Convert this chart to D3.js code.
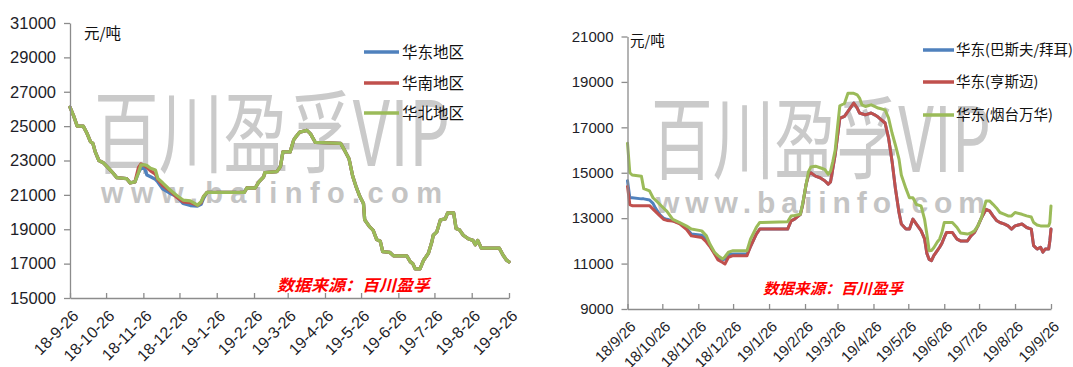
<!DOCTYPE html>
<html>
<head>
<meta charset="utf-8">
<script src="https://cdn.jsdelivr.net/npm/d3@7"></script>
<style>
  body { margin: 0; background: #fff; }
  svg { display: block; }
</style>
</head>
<body>
<svg id="chart" width="1073" height="367"></svg>
<script>
// ---------- Left panel: regional prices (元/吨) ----------
const leftDates = [
  "2018-09-26","2018-09-29","2018-10-02","2018-10-07","2018-10-10","2018-10-13","2018-10-15","2018-10-17","2018-10-20","2018-10-24",
  "2018-10-28","2018-11-01","2018-11-04","2018-11-12","2018-11-15","2018-11-19",
  "2018-11-22","2018-11-24","2018-11-27","2018-11-29","2018-12-02","2018-12-06","2018-12-08","2018-12-12","2018-12-18","2018-12-24",
  "2018-12-29","2019-01-04","2019-01-10","2019-01-13","2019-01-15",
  "2019-01-18","2019-02-18","2019-02-20","2019-02-27","2019-03-02","2019-03-06","2019-03-07","2019-03-17","2019-03-20","2019-03-22",
  "2019-03-28","2019-03-31","2019-04-02","2019-04-05","2019-04-11","2019-04-14","2019-04-18","2019-05-09","2019-05-13","2019-05-16",
  "2019-05-19","2019-05-22","2019-05-25","2019-05-28","2019-05-29","2019-06-02","2019-06-05","2019-06-08","2019-06-11","2019-06-13",
  "2019-06-19","2019-06-22","2019-07-03","2019-07-06","2019-07-08","2019-07-10","2019-07-14","2019-07-17","2019-07-21","2019-07-24",
  "2019-07-25","2019-07-28","2019-07-31","2019-08-04","2019-08-06","2019-08-11","2019-08-13","2019-08-16","2019-08-19","2019-08-23",
  "2019-08-27","2019-08-29","2019-08-31","2019-09-03","2019-09-18","2019-09-21","2019-09-24","2019-09-26"
];
// 华东地区
const leftEast = [
  26100,25600,25000,25000,24600,24100,24000,23500,23000,22850,22550,22250,22000,21950,21700,21750,
  22300,22550,22550,22150,22050,21900,21750,21350,21100,20900,20500,20380,20350,20450,20800,
  21150,21150,21400,21400,21750,22050,22300,22350,22650,23500,23500,24200,24400,24650,24750,24550,24050,24000,23500,23100,
  22100,21450,20900,20500,19550,19150,18950,18400,18300,17700,17650,17450,17450,17100,17000,16700,16700,17200,17600,18300,
  18650,18850,19550,19600,19950,19950,19050,18950,18650,18450,18350,18100,18350,17900,17900,17500,17200,17100
];
// 华南地区
const leftSouth = [
  26100,25600,25000,25000,24600,24100,24000,23500,23000,22850,22550,22250,22000,21950,21700,21750,
  22600,22800,22700,22600,22400,22200,21900,21550,21250,20850,20600,20550,20400,20550,20900,
  21150,21150,21400,21400,21750,22050,22300,22350,22650,23500,23500,24200,24400,24650,24750,24550,24050,24000,23500,23100,
  22100,21450,20900,20500,19550,19150,18950,18400,18300,17700,17650,17450,17450,17100,17000,16700,16700,17200,17600,18300,
  18650,18850,19550,19600,19950,19950,19050,18950,18650,18450,18350,18100,18350,17900,17900,17500,17200,17100
];
// 华北地区
const leftNorth = [
  26100,25600,25000,25000,24600,24100,24000,23500,23000,22850,22550,22250,22000,21950,21700,21750,
  22300,22750,22750,22700,22550,22450,21950,21700,21300,20950,20700,20650,20400,20600,20900,
  21150,21150,21400,21400,21750,22050,22300,22350,22650,23500,23500,24200,24400,24650,24750,24550,24050,24000,23500,23100,
  22100,21450,20900,20500,19550,19150,18950,18400,18300,17700,17650,17450,17450,17100,17000,16700,16700,17200,17600,18300,
  18650,18850,19550,19600,19950,19950,19050,18950,18650,18450,18350,18100,18350,17900,17900,17500,17200,17100
];
const leftNames = ["华东地区", "华南地区", "华北地区"];
const leftYTicks = [15000, 17000, 19000, 21000, 23000, 25000, 27000, 29000, 31000];
const leftXTickDates = ["2018-09-26","2018-10-26","2018-11-26","2018-12-26","2019-01-26","2019-02-26","2019-03-26",
  "2019-04-26","2019-05-26","2019-06-26","2019-07-26","2019-08-26","2019-09-26"];
const leftXTickLabels = ["18-9-26","18-10-26","18-11-26","18-12-26","19-1-26","19-2-26","19-3-26",
  "19-4-26","19-5-26","19-6-26","19-7-26","19-8-26","19-9-26"];

// ---------- Right panel: East China by producer (元/吨) ----------
const rightDates = [
  "2018-09-26","2018-09-28","2018-09-30","2018-10-08","2018-10-10","2018-10-15","2018-10-18","2018-10-20","2018-10-24","2018-10-27",
  "2018-10-30","2018-11-04","2018-11-10","2018-11-16","2018-11-20","2018-11-29","2018-12-03","2018-12-06","2018-12-10","2018-12-13",
  "2018-12-17","2018-12-19","2018-12-22","2018-12-26","2019-01-07","2019-01-10","2019-01-15","2019-01-18","2019-02-11","2019-02-14",
  "2019-02-17","2019-02-22","2019-02-24","2019-02-27","2019-03-01","2019-03-03","2019-03-07","2019-03-11","2019-03-15","2019-03-18",
  "2019-03-20","2019-03-22","2019-03-24","2019-03-26","2019-03-28","2019-04-01","2019-04-04","2019-04-09","2019-04-12","2019-04-14",
  "2019-04-16","2019-04-19","2019-04-24","2019-04-27","2019-04-30","2019-05-06","2019-05-09","2019-05-12","2019-05-15","2019-05-18",
  "2019-05-20","2019-05-24","2019-05-27","2019-05-30","2019-06-02","2019-06-06","2019-06-09","2019-06-11","2019-06-13","2019-06-15",
  "2019-06-17","2019-06-20","2019-06-22","2019-06-24","2019-06-26","2019-06-28","2019-07-03","2019-07-05","2019-07-07","2019-07-10",
  "2019-07-16","2019-07-19","2019-07-22","2019-07-25","2019-07-28","2019-08-01","2019-08-04","2019-08-07","2019-08-10","2019-08-13",
  "2019-08-17","2019-08-20","2019-08-23","2019-08-26","2019-09-01","2019-09-05","2019-09-09","2019-09-11","2019-09-14","2019-09-17",
  "2019-09-19","2019-09-21","2019-09-24","2019-09-25","2019-09-26"
];
// 华东(巴斯夫/拜耳)
const rightBasf = [
  14650,13900,13900,13850,13850,13800,13650,13450,13150,13000,
  12950,12880,12780,12550,12300,12250,12050,11800,11450,11250,
  11170,11200,11400,11420,11420,11750,12300,12520,12520,12880,
  12960,13170,13600,14500,14900,15000,14850,14780,14650,14500,
  14600,15200,15800,16600,17400,17480,17700,18070,17850,17630,
  17600,17550,17630,17550,17450,17190,16530,15510,14270,13250,
  12740,12520,12520,12960,12740,12450,12100,11450,11180,11130,
  11350,11570,11720,11900,12150,12370,12370,12220,12080,12000,
  12000,12220,12370,12660,13000,13390,13320,13100,12900,12810,
  12740,12660,12520,12660,12740,12590,12520,11790,11640,11720,
  11500,11640,11640,12000,12520
];
// 华东(亨斯迈)
const rightHuntsman = [
  14400,13600,13550,13550,13550,13550,13400,13300,13100,12950,
  12900,12880,12750,12500,12220,12150,11950,11750,11420,11160,
  11050,10980,11280,11350,11350,11750,12300,12520,12520,12880,
  12960,13170,13600,14500,14900,15000,14850,14780,14650,14500,
  14600,15200,15800,16600,17400,17480,17700,18070,17850,17630,
  17600,17550,17630,17550,17450,17190,16530,15510,14270,13250,
  12740,12520,12520,12960,12740,12450,12100,11450,11180,11130,
  11350,11570,11720,11900,12150,12370,12370,12220,12080,12000,
  12000,12220,12370,12660,13000,13390,13320,13100,12900,12810,
  12740,12660,12520,12660,12740,12590,12520,11790,11640,11720,
  11500,11640,11640,12000,12520
];
// 华东(烟台万华)
const rightWanhua = [
  16300,15000,14900,14850,14300,14200,13900,13800,13600,13450,
  13300,12950,12800,12650,12520,12440,12220,11860,11500,11350,
  11200,11300,11500,11570,11570,12080,12590,12810,12840,13100,
  13120,13170,13650,14500,15050,15250,15290,15220,15150,14930,
  15070,15500,16000,17000,17950,18050,18500,18500,18430,18290,
  17990,17920,17990,17920,17850,17770,17410,16750,16200,15600,
  14900,14300,13900,13900,13600,13540,12960,12300,11570,11580,
  11700,11950,12080,12370,12810,12810,12810,12700,12590,12350,
  12300,12350,12440,12660,13030,13760,13760,13610,13450,13250,
  13170,13100,13100,13250,13170,13100,13050,12810,12700,12660,
  12660,12660,12660,12810,13540
];
const rightNames = ["华东(巴斯夫/拜耳)", "华东(亨斯迈)", "华东(烟台万华)"];
const rightYTicks = [9000, 11000, 13000, 15000, 17000, 19000, 21000];
const rightXTickDates = leftXTickDates;
const rightXTickLabels = ["18/9/26","18/10/26","18/11/26","18/12/26","19/1/26","19/2/26","19/3/26",
  "19/4/26","19/5/26","19/6/26","19/7/26","19/8/26","19/9/26"];

// ---------- shared styling ----------
const seriesColors = ["#4F81BD", "#C0504D", "#9BBB59"];
const LATIN = "'Liberation Sans', Arial, 'Noto Sans CJK SC', sans-serif";
const CJK = "'Noto Sans CJK SC', 'Liberation Sans', sans-serif";
const parseDate = d3.timeParse("%Y-%m-%d");
const svg = d3.select("#chart");

function drawPanel(p) {
  const g = svg.append("g");
  const x = d3.scaleTime()
    .domain([parseDate(p.xTickDates[0]), parseDate(p.xTickDates[p.xTickDates.length - 1])])
    .range([p.left, p.right]);
  const y = d3.scaleLinear()
    .domain([p.yTicks[0], p.yTicks[p.yTicks.length - 1]])
    .range([p.bottom, p.top]);

  // watermark
  const wm = g.append("g").attr("pointer-events", "none");
  wm.append("text")
    .attr("x", p.wm.x).attr("y", p.wm.y)
    .attr("textLength", p.wm.w).attr("lengthAdjust", "spacingAndGlyphs")
    .style("font-family", CJK).style("font-size", p.wm.size + "px").style("font-weight", 400)
    .attr("fill", "#cacaca")
    .text("百川盈孚VIP");
  wm.append("text")
    .attr("x", p.www.x).attr("y", p.www.y)
    .attr("textLength", p.www.w).attr("lengthAdjust", "spacing")
    .style("font-family", LATIN).style("font-size", p.www.size + "px").style("font-weight", "bold")
    .attr("fill", "#c4c4c4")
    .text("www.baiinfo.com");

  // price lines
  const line = d3.line().x(d => x(d[0])).y(d => y(d[1]));
  p.series.forEach((values, i) => {
    const pts = p.dates.map((d, j) => [parseDate(d), values[j]]);
    g.append("path")
      .datum(pts)
      .attr("d", line)
      .attr("fill", "none")
      .attr("stroke", seriesColors[i])
      .attr("stroke-width", p.lineWidth)
      .attr("stroke-linejoin", "round")
      .attr("stroke-linecap", "round");
  });

  // y axis
  const yAxis = d3.axisLeft(y)
    .tickValues(p.yTicks)
    .tickFormat(d3.format("d"))
    .tickSizeInner(6).tickSizeOuter(0).tickPadding(p.yPad);
  const ya = g.append("g").attr("transform", `translate(${p.left},0)`).call(yAxis);
  ya.select(".domain").attr("stroke", "#8c8c8c").attr("stroke-width", 1.3);
  ya.selectAll(".tick line").attr("stroke", "#8c8c8c").attr("stroke-width", 1.3);
  ya.selectAll(".tick text")
    .attr("fill", "#1e1e28")
    .style("font-family", LATIN).style("font-size", p.yFont + "px");

  // x axis: inward ticks, rotated labels
  const tickDates = p.xTickDates.map(parseDate);
  const xAxis = d3.axisBottom(x)
    .tickValues(tickDates)
    .tickFormat((d, i) => p.xTickLabels[i])
    .tickSizeInner(-5).tickSizeOuter(0);
  const xa = g.append("g").attr("transform", `translate(0,${p.bottom})`).call(xAxis);
  xa.select(".domain").attr("stroke", "#8c8c8c").attr("stroke-width", 1.3);
  xa.selectAll(".tick line").attr("stroke", "#8c8c8c").attr("stroke-width", 1.3);
  xa.selectAll(".tick text")
    .attr("x", 0).attr("y", 0).attr("dy", "0.35em")
    .attr("text-anchor", "end")
    .attr("transform", `translate(${p.xLab.dx},${p.xLab.dy}) rotate(-45)`)
    .attr("fill", "#1e1e28")
    .style("font-family", LATIN).style("font-size", p.xFont + "px");

  // unit label
  g.append("text")
    .attr("x", p.unit.x).attr("y", p.unit.y)
    .style("font-family", CJK).style("font-size", p.unit.size + "px")
    .attr("fill", "#111")
    .text("元/吨");

  // legend
  const lg = g.append("g");
  p.names.forEach((name, i) => {
    const ry = p.legend.rows[i];
    lg.append("line")
      .attr("x1", p.legend.x1).attr("x2", p.legend.x2)
      .attr("y1", ry).attr("y2", ry)
      .attr("stroke", seriesColors[i]).attr("stroke-width", 3.5);
    lg.append("text")
      .attr("x", p.legend.tx).attr("y", ry).attr("dy", "0.36em")
      .style("font-family", CJK).style("font-size", p.legend.size + "px")
      .attr("fill", "#111")
      .text(name);
  });

  // source note
  g.append("text")
    .attr("x", p.src.x).attr("y", p.src.y)
    .attr("textLength", p.src.w).attr("lengthAdjust", "spacingAndGlyphs")
    .style("font-family", CJK).style("font-size", p.src.size + "px")
    .style("font-weight", "bold").style("font-style", "italic")
    .attr("fill", "#ff0000")
    .text("数据来源：百川盈孚");
}

drawPanel({
  dates: leftDates,
  series: [leftEast, leftSouth, leftNorth],
  names: leftNames,
  yTicks: leftYTicks,
  xTickDates: leftXTickDates,
  xTickLabels: leftXTickLabels,
  left: 70, right: 509, top: 23, bottom: 298,
  lineWidth: 3.3,
  yPad: 8, yFont: 16.5, xFont: 16,
  xLab: { dx: 5, dy: 15 },
  wm: { x: 94, y: 166, w: 356, size: 90 },
  www: { x: 101, y: 203, w: 341, size: 29 },
  unit: { x: 84, y: 39, size: 15.5 },
  legend: { x1: 364, x2: 399, tx: 402, rows: [52, 83, 113], size: 15.5 },
  src: { x: 277, y: 291, w: 153, size: 16 }
});

drawPanel({
  dates: rightDates,
  series: [rightBasf, rightHuntsman, rightWanhua],
  names: rightNames,
  yTicks: rightYTicks,
  xTickDates: rightXTickDates,
  xTickLabels: rightXTickLabels,
  left: 627.5, right: 1051, top: 36.5, bottom: 309,
  lineWidth: 3,
  yPad: 8, yFont: 15, xFont: 15,
  xLab: { dx: 5, dy: 15 },
  wm: { x: 651, y: 172, w: 340, size: 90 },
  www: { x: 656, y: 213, w: 329, size: 30 },
  unit: { x: 630, y: 46, size: 14.5 },
  legend: { x1: 923, x2: 954, tx: 956, rows: [50, 82, 115], size: 14.5 },
  src: { x: 763, y: 294, w: 140, size: 15 }
});
</script>
</body>
</html>
